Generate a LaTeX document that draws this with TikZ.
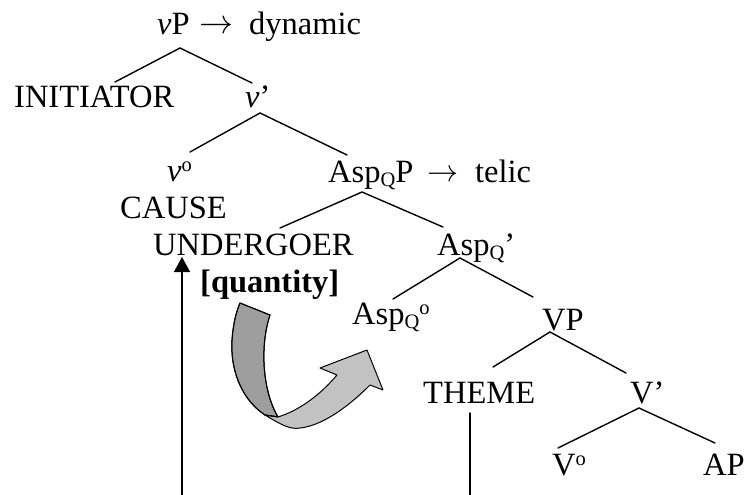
\documentclass[tikz,border=0pt]{standalone}
\usepackage{fontspec}
\setmainfont{Liberation Serif}
\usetikzlibrary{arrows.meta}
\newcommand{\subQ}{\raisebox{-4.5pt}{\fontsize{20.5}{20}\selectfont Q}}
\newcommand{\supo}{\raisebox{10pt}{\fontsize{20.5}{20}\selectfont o}}
\newcommand{\bigarr}[1]{\resizebox{#1}{!}{$\rightarrow$}}
\begin{document}
\begin{tikzpicture}[x=1pt,y=-1pt,
  lab/.style={inner sep=0pt,anchor=base west,font=\fontsize{32.5}{36}\selectfont},
  edge/.style={line width=1.4pt,line cap=round},
  band/.style={draw=black,line width=1pt,line join=round},
  uparrow/.style={line width=1.4pt,-{Triangle[length=15pt,width=16pt]}}]
\useasboundingbox (0,0) rectangle (744,495);
% labels
\node[lab] (vP) at (157,35) {\textit{v}P};
\node[lab] (arr1) at (199,34) {\bigarr{34pt}};
\node[lab] (dyn) at (249,35) {dynamic};
\node[lab] (init) at (14,107) {INITIATOR};
\node[lab] (vbar) at (245,107) {\textit{v}’};
\node[lab] (vo) at (167,181) {\textit{v}\supo};
\node[lab] (aspP) at (328,182) {Asp\subQ P};
\node[lab] (arr2) at (427,181) {\bigarr{31pt}};
\node[lab] (telic) at (475,182) {telic};
\node[lab] (cause) at (120,218) {CAUSE};
\node[lab] (ug) at (153,255) {UNDERGOER};
\node[lab] (aspbar) at (437,255) {Asp\subQ’};
\node[lab,font=\fontsize{32.5}{36}\selectfont\bfseries] (qty) at (200,292) {[quantity]};
\node[lab] (aspo) at (352,324) {Asp\subQ\supo};
\node[lab] (VP) at (542,330) {VP};
\node[lab] (theme) at (423,403) {THEME};
\node[lab] (Vbar) at (630,403) {V’};
\node[lab] (Vo) at (552,475) {V\supo};
\node[lab] (AP) at (703,475) {AP};
% branch points
\coordinate (vP-b) at (180,48);
\coordinate (init-t) at (115,82);
\coordinate (vbar-t) at (252,83);
\coordinate (vbar-b) at (260,113);
\coordinate (vo-t) at (190,152);
\coordinate (aspP-t) at (347,155);
\coordinate (aspP-b) at (362,192);
\coordinate (ug-t) at (280,228);
\coordinate (aspbar-t) at (443,227);
\coordinate (aspbar-b) at (460,258);
\coordinate (aspo-t) at (393,299);
\coordinate (VP-t) at (533,297);
\coordinate (VP-b) at (550,332);
\coordinate (theme-t) at (493,367);
\coordinate (Vbar-t) at (626,373);
\coordinate (Vbar-b) at (639,408);
\coordinate (Vo-t) at (558,448);
\coordinate (AP-t) at (715,443);
\coordinate (theme-b) at (470,413);
\coordinate (theme-end) at (470,495);
\coordinate (arr-start) at (182,495);
\coordinate (arr-tip) at (182,257);
% tree
\draw[edge] (init-t) -- (vP-b) -- (vbar-t);
\draw[edge] (vo-t) -- (vbar-b) -- (aspP-t);
\draw[edge] (ug-t) -- (aspP-b) -- (aspbar-t);
\draw[edge] (aspo-t) -- (aspbar-b) -- (VP-t);
\draw[edge] (theme-t) -- (VP-b) -- (Vbar-t);
\draw[edge] (Vo-t) -- (Vbar-b) -- (AP-t);
\draw[edge] (theme-b) -- (theme-end);
\draw[uparrow] (arr-start) -- (arr-tip);
% curved arrow
\fill[band,fill=black!38] (240,303) -- (270,315)
  .. controls (260,345) and (262,390) .. (278,417)
  -- (265,415)
  .. controls (245,402) and (230,375) .. (232,340)
  .. controls (233,325) and (236,312) .. (240,303) -- cycle;
\fill[band,fill=black!24] (265,415)
  .. controls (280,424) and (290,430) .. (300,428)
  .. controls (320,426) and (345,410) .. (370,385)
  -- (383,390) -- (367,350) -- (320,368) -- (337,375)
  .. controls (320,395) and (300,410) .. (278,417) -- cycle;
\draw[band] (240,303) -- (270,315)
  .. controls (260,345) and (262,390) .. (278,417)
  -- (265,415)
  .. controls (245,402) and (230,375) .. (232,340)
  .. controls (233,325) and (236,312) .. (240,303) -- cycle;
\end{tikzpicture}
\end{document}
